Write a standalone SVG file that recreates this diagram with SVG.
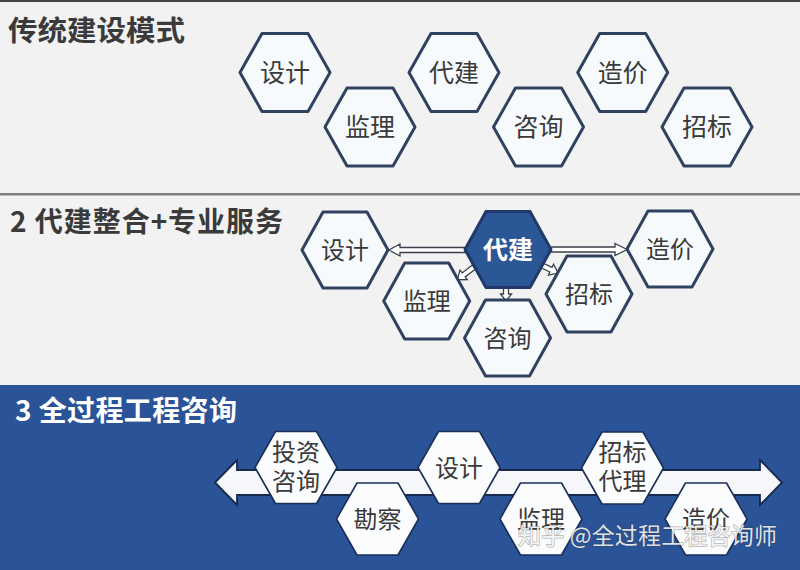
<svg xmlns="http://www.w3.org/2000/svg" xmlns:xlink="http://www.w3.org/1999/xlink" width="800" height="570" viewBox="0 0 800 570">
<style>
text{font-family:"Noto Sans CJK SC","Noto Sans",sans-serif;}
.title{font-size:28px;font-weight:700;fill:#3a3a3a;}
.title3{font-size:28px;font-weight:700;fill:#ffffff;}
.lbl{font-size:25px;fill:#3a3a3a;text-anchor:middle;}
.lbl2{font-size:24px;fill:#3a3a3a;text-anchor:middle;}
.lblw{font-size:25px;font-weight:700;fill:#ffffff;text-anchor:middle;}
.hexL{fill:#f7fafd;stroke:#2f4260;stroke-width:3;stroke-linejoin:round;}
.hexD{fill:#2c5797;stroke:#20396a;stroke-width:3;stroke-linejoin:round;}
.hexW{fill:#fbfcfd;stroke:#1b2f58;stroke-width:1.6;stroke-linejoin:round;}
.arr{fill:#ffffff;stroke:#3a3f48;stroke-width:1.3;stroke-linejoin:miter;}
.band{fill:#f5f7fa;stroke:#17294d;stroke-width:1.8;stroke-linejoin:miter;}
.wm{font-size:23px;fill:#ffffff;fill-opacity:0.85;stroke:#333;stroke-opacity:0.35;stroke-width:1.5;paint-order:stroke;}
</style>
<defs>
<polygon id="hex1" points="-45,0 -23,-39 23,-39 45,0 23,39 -23,39"/>
<polygon id="hex2" points="-43,0 -22,-38 22,-38 43,0 22,38 -22,38"/>
<polygon id="hex3" points="-41,0 -20.5,-36 20.5,-36 41,0 20.5,36 -20.5,36"/>
</defs>

<!-- backgrounds -->
<rect x="0" y="0" width="800" height="570" fill="#f2f2f2"/>
<rect x="0" y="0" width="800" height="2" fill="#444"/>
<rect x="0" y="193" width="800" height="2.5" fill="#808080"/>
<rect x="0" y="385" width="800" height="185" fill="#2a5398"/>

<!-- titles -->
<text class="title" x="8" y="41" font-size="29" textLength="177" lengthAdjust="spacingAndGlyphs">传统建设模式</text>
<text class="title" x="10" y="232" textLength="273" lengthAdjust="spacing">2 代建整合+专业服务</text>
<text class="title3" x="15" y="421" textLength="222" lengthAdjust="spacing">3 全过程工程咨询</text>

<!-- section 1 nodes -->
<g id="s1-sheji"><use xlink:href="#hex1" class="hexL" transform="translate(285,72.5)"/><text class="lbl" x="285" y="82">设计</text></g>
<g id="s1-jianli"><use xlink:href="#hex1" class="hexL" transform="translate(370,127)"/><text class="lbl" x="370" y="136">监理</text></g>
<g id="s1-daijian"><use xlink:href="#hex1" class="hexL" transform="translate(454,72.5)"/><text class="lbl" x="454" y="82">代建</text></g>
<g id="s1-zixun"><use xlink:href="#hex1" class="hexL" transform="translate(538.5,127)"/><text class="lbl" x="538.5" y="136">咨询</text></g>
<g id="s1-zaojia"><use xlink:href="#hex1" class="hexL" transform="translate(622.7,72.5)"/><text class="lbl" x="622.7" y="82">造价</text></g>
<g id="s1-zhaobiao"><use xlink:href="#hex1" class="hexL" transform="translate(707,127)"/><text class="lbl" x="707" y="136">招标</text></g>

<!-- section 2 connectors -->
<g id="s2-connectors">
<polygon class="arr" points="465,247.5 400,247.5 400,244 389,250 400,256 400,252.5 465,252.5"/>
<polygon class="arr" points="551,247 615,247 615,243.5 627,249.5 615,255.5 615,252 551,252"/>
<polygon class="arr" transform="translate(506,288) rotate(90)" points="0,-2.5 6,-2.5 6,-5.5 13,0 6,5.5 6,2.5 0,2.5"/>
<polygon class="arr" transform="translate(474,267) rotate(142.6)" points="0,-2.5 13,-2.5 13,-6 21,0 13,6 13,2.5 0,2.5"/>
<polygon class="arr" transform="translate(541,265) rotate(25.2)" points="0,-2.5 11,-2.5 11,-6 19,0 11,6 11,2.5 0,2.5"/>
</g>

<!-- section 2 nodes -->
<g id="s2-sheji"><use xlink:href="#hex2" class="hexL" transform="translate(345,250)"/><text class="lbl2" x="345" y="259">设计</text></g>
<g id="s2-zaojia"><use xlink:href="#hex2" class="hexL" transform="translate(670,249)"/><text class="lbl2" x="670" y="258">造价</text></g>
<g id="s2-jianli"><use xlink:href="#hex2" class="hexL" transform="translate(426.7,301)"/><text class="lbl2" x="426.7" y="310">监理</text></g>
<g id="s2-zhaobiao"><use xlink:href="#hex2" class="hexL" transform="translate(589,294)"/><text class="lbl2" x="589" y="303">招标</text></g>
<g id="s2-zixun"><use xlink:href="#hex2" class="hexL" transform="translate(507.5,338)"/><text class="lbl2" x="507.5" y="347">咨询</text></g>
<g id="s2-daijian"><use xlink:href="#hex2" class="hexD" transform="translate(508,249.5)"/><text class="lblw" x="508" y="258.5">代建</text></g>

<!-- section 3 connector band -->
<g id="s3-connectors">
<polygon class="band" points="215,482.5 237,460 237,470 760,470 760,460 782,482.5 760,505 760,495 237,495 237,505"/>
</g>

<!-- section 3 nodes -->
<g id="s3-touzi"><use xlink:href="#hex3" class="hexW" transform="translate(296,467.5)"/><text class="lbl2" x="296" y="461">投资</text><text class="lbl2" x="296" y="490">咨询</text></g>
<g id="s3-kancha"><use xlink:href="#hex3" class="hexW" transform="translate(377.5,519)"/><text class="lbl2" x="377.5" y="528">勘察</text></g>
<g id="s3-sheji"><use xlink:href="#hex3" class="hexW" transform="translate(459,467.5)"/><text class="lbl2" x="459" y="476.5">设计</text></g>
<g id="s3-jianli"><use xlink:href="#hex3" class="hexW" transform="translate(541,519)"/><text class="lbl2" x="541" y="528">监理</text></g>
<g id="s3-zhaobiao"><use xlink:href="#hex3" class="hexW" transform="translate(622.5,468)"/><text class="lbl2" x="622.5" y="461">招标</text><text class="lbl2" x="622.5" y="490">代理</text></g>
<g id="s3-zaojia"><use xlink:href="#hex3" class="hexW" transform="translate(706,519)"/><text class="lbl2" x="706" y="528">造价</text></g>

<!-- watermark -->
<text class="wm" x="518" y="544" textLength="259" lengthAdjust="spacing">知乎 @全过程工程咨询师</text>
</svg>
